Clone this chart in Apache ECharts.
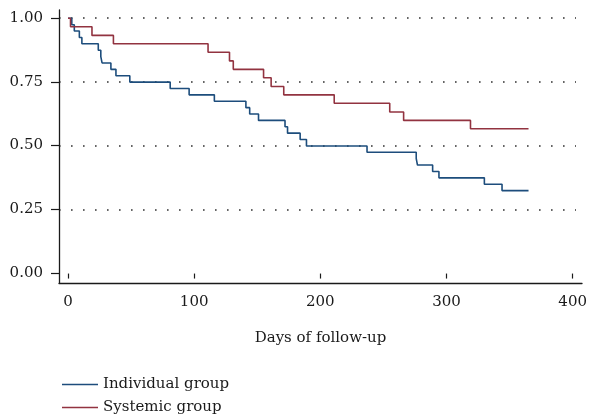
<!DOCTYPE html>
<html>
<head>
<meta charset="utf-8">
<script src="https://cdn.jsdelivr.net/npm/echarts@6/dist/echarts.min.js"></script>
<style>
  html, body { margin: 0; padding: 0; background: #fff; }
  #main { width: 590px; height: 417px; }
</style>
</head>
<body>
<div id="main"></div>
<script>
// Kaplan-Meier curves
var seriesNames = ['Individual group', 'Systemic group'];

var individualDays = [0, 3, 5, 9, 11, 24, 26, 27, 34, 38, 49, 81, 96, 116, 141, 144, 151, 172, 174, 184, 189, 237, 276, 277, 289, 294, 330, 344, 365];
var individualSurv = [1, 0.975, 0.95, 0.925, 0.9, 0.875, 0.85, 0.825, 0.8, 0.775, 0.75, 0.725, 0.7, 0.675, 0.65, 0.625, 0.6, 0.575, 0.55, 0.525, 0.5, 0.475, 0.45, 0.425, 0.4, 0.375, 0.35, 0.325, 0.325];

var systemicDays = [0, 2, 19, 36, 111, 128, 131, 155, 161, 171, 211, 255, 266, 319, 365];
var systemicSurv = [1, 0.967, 0.933, 0.9, 0.867, 0.833, 0.8, 0.767, 0.733, 0.7, 0.667, 0.633, 0.6, 0.567, 0.567];

var xTicks = [0, 100, 200, 300, 400];
var yTicks = ['0.00', '0.25', '0.50', '0.75', '1.00'];

var FONT = 'DejaVu Serif';
var TEXT = '#1a1a1a';

function pairs(xs, ys) {
  var out = [];
  for (var i = 0; i < xs.length; i++) {
    out.push([xs[i], ys[i]]);
  }
  return out;
}

// axis with nothing drawn on it
function bare(extra) {
  var ax = {
    type: 'value',
    axisLine: { show: false },
    axisTick: { show: false },
    axisLabel: { show: false },
    splitLine: { show: false }
  };
  for (var k in extra) ax[k] = extra[k];
  return ax;
}

function chartInit() {
  var myChart = echarts.init(document.getElementById('main'));

  var option = {
    animation: false,
    color: ['#1d4d7c', '#923340'],
    grid: [
      // 0: data + x ticks (x runs 0..400, y runs a bit past 0..1)
      { left: 68, right: 17, top: 10, bottom: 134 },
      // 1: y ticks, labels and dotted lines (0..1)
      { left: 59, right: 14, top: 18, bottom: 144 },
      // 2: the two axis lines
      { left: 59, right: 8, top: 10, bottom: 134 }
    ],
    xAxis: [
      {
        type: 'value', gridIndex: 0,
        min: xTicks[0], max: xTicks[xTicks.length - 1], interval: 100,
        axisLine: { show: false },
        axisTick: { show: true, length: 5, lineStyle: { color: TEXT, width: 1.2 } },
        axisLabel: { margin: 12, fontFamily: FONT, fontSize: 15, color: TEXT },
        splitLine: { show: false }
      },
      bare({ gridIndex: 1, min: 0, max: 1 }),
      bare({
        gridIndex: 2, min: 0, max: 1,
        axisLine: { show: true, onZero: false, lineStyle: { color: TEXT, width: 1.3 } },
        name: 'Days of follow-up',
        nameLocation: 'middle',
        nameGap: 48,
        nameTextStyle: { fontFamily: FONT, fontSize: 15, color: TEXT }
      })
    ],
    yAxis: [
      bare({ gridIndex: 0, min: -0.037, max: 1.0325 }),
      {
        type: 'value', gridIndex: 1,
        min: 0, max: 1, interval: 0.25,
        axisLine: { show: false },
        axisTick: { show: true, length: 8, lineStyle: { color: TEXT, width: 1.2 } },
        axisLabel: {
          margin: 16, fontFamily: FONT, fontSize: 15, color: TEXT,
          formatter: function (v) { return yTicks[Math.round(v * 4)]; }
        },
        splitLine: {
          show: true, showMinLine: false,
          lineStyle: { color: '#333', width: 1.6, type: [1.6, 10.4] }
        }
      },
      bare({
        gridIndex: 2, min: 0, max: 1,
        axisLine: { show: true, onZero: false, lineStyle: { color: TEXT, width: 1.3 } }
      })
    ],
    legend: {
      orient: 'vertical',
      left: 57,
      top: 372,
      height: 60,
      itemWidth: 36,
      itemHeight: 1.6,
      itemGap: 8,
      icon: 'rect',
      textStyle: { fontFamily: FONT, fontSize: 15, color: TEXT },
      data: seriesNames
    },
    series: [
      {
        name: seriesNames[0],
        type: 'line', xAxisIndex: 0, yAxisIndex: 0,
        step: 'end', symbol: 'none',
        lineStyle: { width: 1.6 },
        data: pairs(individualDays, individualSurv)
      },
      {
        name: seriesNames[1],
        type: 'line', xAxisIndex: 0, yAxisIndex: 0,
        step: 'end', symbol: 'none',
        lineStyle: { width: 1.6 },
        data: pairs(systemicDays, systemicSurv)
      }
    ]
  };
  myChart.setOption(option);
}

chartInit();
</script>
</body>
</html>
